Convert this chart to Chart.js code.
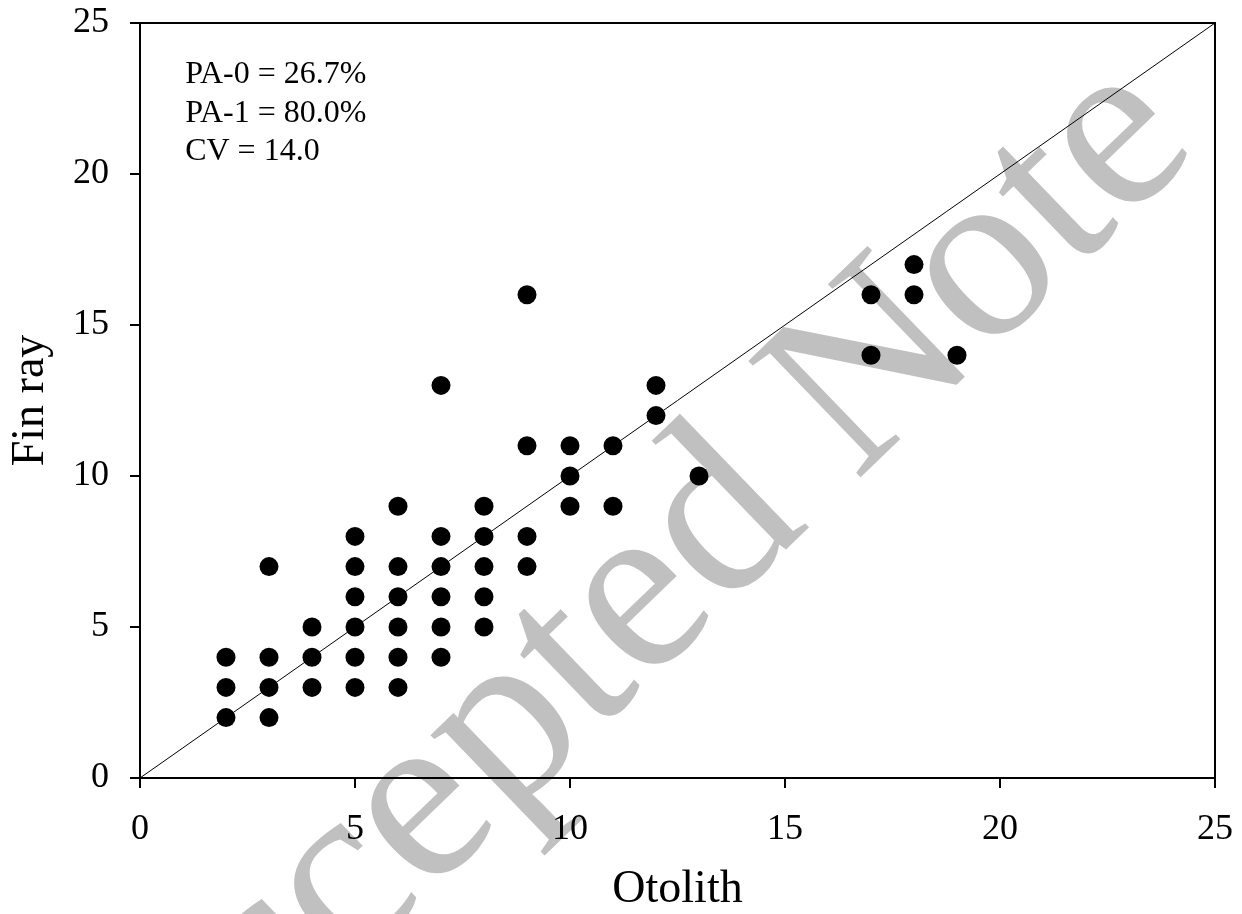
<!DOCTYPE html>
<html>
<head>
<meta charset="utf-8">
<script src="https://cdn.jsdelivr.net/npm/chart.js@4"></script>
<style>
  html, body { margin: 0; padding: 0; background: #fff; }
  #wrap { width: 1242px; height: 914px; position: relative; }
</style>
</head>
<body>
<div id="wrap"><canvas id="c" width="1242" height="914"></canvas></div>
<script>
// ---- data ----
const otolith = [2,2,2, 3,3,3,3, 4,4,4, 5,5,5,5,5,5, 6,6,6,6,6,6, 7,7,7,7,7,7, 8,8,8,8,8, 9,9,9,9, 10,10,10, 11,11, 12,12, 13, 17,17, 18,18, 19];
const finRay  = [2,3,4, 2,3,4,7, 3,4,5, 3,4,5,6,7,8, 3,4,5,6,7,9, 4,5,6,7,8,13, 5,6,7,8,9, 7,8,11,16, 9,10,11, 9,11, 12,13, 10, 14,16, 16,17, 14];
const oneToOneX = [0, 25];
const oneToOneY = [0, 25];
const axisTicks = [0, 5, 10, 15, 20, 25];
const statsLines = ["PA-0 = 26.7%", "PA-1 = 80.0%", "CV = 14.0"];
const xTitle = "Otolith";
const yTitle = "Fin ray";
const watermarkText = "Accepted Note";

const SERIF = '"Liberation Serif", "Times New Roman", serif';

const points = otolith.map((x, i) => ({ x: x, y: finRay[i] }));
const lineData = oneToOneX.map((x, i) => ({ x: x, y: oneToOneY[i] }));

const bgPlugin = {
  id: 'bgWatermark',
  beforeDraw(chart) {
    const ctx = chart.ctx;
    ctx.save();
    ctx.fillStyle = '#ffffff';
    ctx.fillRect(0, 0, chart.width, chart.height);
    // watermark (grey rotated text behind the chart)
    const f = 247;
    const ang = 44 * Math.PI / 180;
    ctx.font = f + 'px ' + SERIF;
    const bx = Math.cos(ang), by = -Math.sin(ang);
    const ux = -Math.sin(ang), uy = -Math.cos(ang);
    // anchor: centre of the final "e"
    const cx = 1122, cy = 146;
    const eW = ctx.measureText('e').width;
    const ox = cx - (eW / 2) * bx - 0.23 * f * ux;
    const oy = cy - (eW / 2) * by - 0.23 * f * uy;
    const pre = ctx.measureText(watermarkText.slice(0, -1)).width;
    ctx.translate(ox - pre * bx, oy - pre * by);
    ctx.rotate(-ang);
    ctx.fillStyle = '#c0c0c0';
    ctx.textBaseline = 'alphabetic';
    ctx.textAlign = 'left';
    ctx.fillText(watermarkText, 0, 0);
    ctx.restore();
  },
  beforeDatasetsDraw(chart) {
    const ctx = chart.ctx;
    const a = chart.chartArea;
    ctx.save();
    ctx.strokeStyle = '#000';
    ctx.lineWidth = 2;
    ctx.beginPath();
    ctx.moveTo(a.left, a.top);
    ctx.lineTo(a.right, a.top);
    ctx.lineTo(a.right, a.bottom);
    ctx.stroke();
    // stats text
    ctx.fillStyle = '#000';
    ctx.font = '32px ' + SERIF;
    ctx.textAlign = 'left';
    ctx.textBaseline = 'alphabetic';
    const x0 = chart.scales.x.getPixelForValue(1.05);
    statsLines.forEach((t, i) => {
      ctx.fillText(t, x0, a.top + 60 + i * 38.5);
    });
    ctx.restore();
  }
};

new Chart(document.getElementById('c'), {
  type: 'scatter',
  data: {
    datasets: [
      {
        type: 'line',
        data: lineData,
        borderColor: '#000',
        borderWidth: 1,
        pointRadius: 0,
        fill: false,
        order: 2
      },
      {
        data: points,
        backgroundColor: '#000',
        borderColor: '#000',
        borderWidth: 0,
        pointRadius: 9.5,
        pointHoverRadius: 9.5,
        order: 1
      }
    ]
  },
  options: {
    responsive: false,
    animation: false,
    events: [],
    layout: { padding: { top: 23, right: 27, left: 0, bottom: 0 } },
    plugins: { legend: { display: false }, tooltip: { enabled: false } },
    scales: {
      x: {
        type: 'linear',
        min: 0, max: 25,
        afterBuildTicks(s) { s.ticks = axisTicks.map(v => ({ value: v })); },
        afterFit(s) { s.height = 136; s.paddingLeft = 0; s.paddingRight = 0; },
        ticks: { font: { family: SERIF, size: 36 }, color: '#000', padding: 20, maxRotation: 0 },
        grid: { display: true, drawOnChartArea: false, drawTicks: true, tickLength: 10, color: '#000', lineWidth: 2 },
        border: { display: true, color: '#000', width: 2 },
        title: { display: true, text: xTitle, color: '#000', font: { family: SERIF, size: 46, lineHeight: 1 }, padding: { top: 0, bottom: 1 } }
      },
      y: {
        type: 'linear',
        min: 0, max: 25,
        afterBuildTicks(s) { s.ticks = axisTicks.map(v => ({ value: v })); },
        afterFit(s) { s.width = 140; s.paddingTop = 0; s.paddingBottom = 0; },
        ticks: { font: { family: SERIF, size: 36 }, color: '#000', padding: 21 },
        grid: { display: true, drawOnChartArea: false, drawTicks: true, tickLength: 10, color: '#000', lineWidth: 2 },
        border: { display: true, color: '#000', width: 2 },
        title: { display: true, text: yTitle, color: '#000', font: { family: SERIF, size: 46, lineHeight: 1 }, padding: { top: 8, bottom: 0 } }
      }
    }
  },
  plugins: [bgPlugin]
});
</script>
</body>
</html>
